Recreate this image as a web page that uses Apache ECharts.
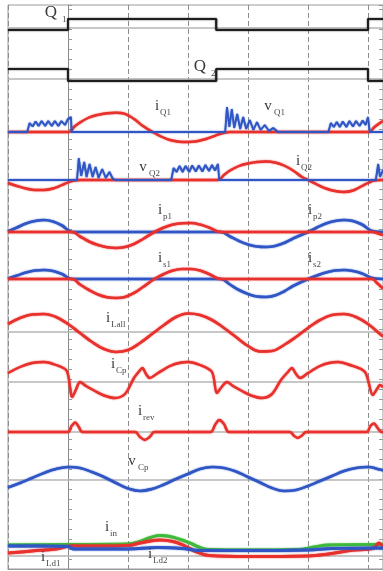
<!DOCTYPE html>
<html>
<head>
<meta charset="utf-8">
<script src="https://cdn.jsdelivr.net/npm/echarts@6/dist/echarts.min.js"></script>
<style>
html, body { margin: 0; padding: 0; background: #fff; }
#main { width: 383px; height: 571px; }
</style>
</head>
<body>
<div id="main"></div>
<script>
// all waveforms are [time (div), value (div)]
const q1 = [[-1,-0.2],[0,-0.2],[0,0.9],[2.47,0.9],[2.47,-0.2],[5.0,-0.2],[5.0,0.9],[5.25,0.9]];
const q2 = [[-1,1.0],[0,1.0],[0,-0.2],[2.47,-0.2],[2.47,1.0],[5.0,1.0],[5.0,-0.2],[5.25,-0.2]];

const iQ1 = [[-1,0],[0.02,0],[0.1,0.5],[0.2,0.95],[0.35,1.45],[0.5,1.72],[0.65,1.87],[0.8,1.93],[0.95,1.82],
  [1.1,1.3],[1.25,0.6],[1.41,0],[1.55,-0.45],[1.7,-0.8],[1.85,-0.97],[2.0,-1.0],[2.15,-0.92],[2.3,-0.7],
  [2.45,-0.38],[2.6,-0.08],[2.7,0],[5.02,0],[5.1,0.45],[5.2,0.9],[5.25,1.1]];
const vQ1 = [[-1,0],[-0.68,0],[-0.64,0.9],[-0.59,0.55],[-0.54,1.05],[-0.49,0.6],[-0.44,1.1],[-0.38,0.6],
  [-0.33,1.1],[-0.27,0.6],[-0.22,1.1],[-0.16,0.6],[-0.11,1.1],[-0.05,0.7],[0.0,1.3],[0.05,1.5],[0.06,0],
  [2.62,0],[2.65,2.5],[2.69,0.5],[2.73,2.3],[2.77,0.4],[2.82,1.8],[2.87,0.3],[2.92,1.5],[2.97,0.3],
  [3.03,1.2],[3.09,0.2],[3.15,1.0],[3.21,0.2],[3.28,0.7],[3.35,0.1],[3.42,0.4],[3.5,0],[4.34,0],
  [4.38,0.9],[4.43,0.5],[4.48,1.0],[4.53,0.5],[4.58,1.05],[4.64,0.5],[4.69,1.1],[4.75,0.55],[4.8,1.1],
  [4.86,0.6],[4.91,1.15],[4.96,0.7],[5.0,1.5],[5.03,0],[5.25,0]];

const iQ2 = [[-1,-0.3],[-0.85,-0.6],[-0.7,-0.85],[-0.55,-1.0],[-0.4,-1.0],[-0.25,-0.85],[-0.1,-0.5],[0,-0.25],
  [0.1,-0.05],[0.2,0],[2.5,0],[2.6,0.5],[2.7,0.95],[2.85,1.4],[3.0,1.65],[3.15,1.8],[3.3,1.85],[3.45,1.75],
  [3.6,1.45],[3.75,0.95],[3.9,0.3],[4.0,0],[4.15,-0.45],[4.3,-0.85],[4.45,-1.1],[4.6,-1.2],[4.75,-1.05],
  [4.9,-0.6],[5.0,-0.3],[5.1,-0.05],[5.2,0],[5.25,0]];
const vQ2 = [[-1,0],[0.15,0],[0.18,2.2],[0.22,0.4],[0.27,1.8],[0.31,0.3],[0.36,1.6],[0.41,0.3],[0.46,1.3],
  [0.51,0.2],[0.57,1.1],[0.63,0.2],[0.69,0.8],[0.75,0.1],[0.8,0],[1.72,0],[1.76,1.2],[1.81,0.8],[1.86,1.4],
  [1.91,0.8],[1.96,1.4],[2.02,0.8],[2.07,1.45],[2.13,0.85],[2.18,1.45],[2.24,0.85],[2.29,1.5],[2.35,0.9],
  [2.4,1.5],[2.45,0.95],[2.5,1.6],[2.52,0],[5.13,0],[5.17,1.6],[5.2,0.3],[5.25,1.0]];

const ip1 = [[-1,0],[0.07,0],[0.2,-0.45],[0.35,-0.95],[0.5,-1.3],[0.65,-1.52],[0.8,-1.6],[0.95,-1.5],[1.1,-1.2],
  [1.25,-0.7],[1.44,0],[1.6,0.45],[1.75,0.75],[1.9,0.88],[2.05,0.9],[2.2,0.75],[2.35,0.45],[2.55,0],
  [5.07,0],[5.17,-0.15],[5.25,-0.3]];
const ip2 = [[-1,0.05],[-0.85,0.45],[-0.7,0.85],[-0.55,1.1],[-0.4,1.2],[-0.25,1.05],[-0.1,0.65],[0.07,0],
  [2.55,0],[2.7,-0.45],[2.85,-0.9],[3.0,-1.25],[3.15,-1.45],[3.3,-1.5],[3.45,-1.4],[3.6,-1.1],[3.75,-0.65],
  [4.0,0],[4.15,0.45],[4.3,0.85],[4.45,1.1],[4.6,1.2],[4.75,1.1],[4.9,0.75],[5.07,0.1],[5.25,0]];

const is1 = [[-1,0],[0.07,0],[0.2,-0.55],[0.35,-1.1],[0.5,-1.55],[0.65,-1.82],[0.8,-1.9],[0.95,-1.8],[1.1,-1.4],
  [1.25,-0.8],[1.44,0],[1.6,0.5],[1.75,0.85],[1.9,1.0],[2.05,1.0],[2.2,0.85],[2.35,0.5],[2.55,0],
  [5.07,0],[5.15,-0.4],[5.25,-0.95]];
const is2 = [[-1,0.05],[-0.85,0.35],[-0.7,0.65],[-0.55,0.85],[-0.4,0.9],[-0.25,0.8],[-0.1,0.5],[0.07,0],
  [2.55,0],[2.7,-0.55],[2.85,-1.1],[3.0,-1.5],[3.15,-1.75],[3.3,-1.8],[3.45,-1.65],[3.6,-1.25],[3.75,-0.7],
  [4.0,0],[4.15,0.35],[4.3,0.65],[4.45,0.85],[4.6,0.9],[4.75,0.8],[4.9,0.55],[5.07,0.1],[5.25,0]];

const iLall = [[-1,0.8],[-0.8,1.4],[-0.6,1.75],[-0.4,1.8],[-0.2,1.5],[0,0.8],[0.2,-0.1],[0.4,-1.0],[0.6,-1.7],
  [0.8,-2.0],[1.0,-1.8],[1.2,-1.1],[1.4,-0.2],[1.6,0.7],[1.8,1.5],[2.0,1.85],[2.2,1.7],[2.4,1.2],[2.6,0.4],
  [2.8,-0.5],[3.0,-1.4],[3.2,-1.95],[3.4,-1.9],[3.6,-1.3],[3.8,-0.5],[4.0,0.4],[4.2,1.2],[4.4,1.7],
  [4.6,1.8],[4.8,1.5],[5.0,0.8],[5.2,-0.2],[5.25,-0.45]];

const iCp = [[-1,0.9],[-0.8,1.5],[-0.6,1.9],[-0.4,2.0],[-0.2,1.7],[-0.02,1.1],[0.07,-1.5],[0.13,-0.8],[0.2,0],
  [0.3,-0.4],[0.45,-0.9],[0.6,-1.35],[0.78,-1.6],[0.95,-1.2],[1.1,0.4],[1.19,1.1],[1.24,1.4],[1.3,0.8],
  [1.36,0.4],[1.5,0.9],[1.7,1.6],[1.85,1.9],[2.0,2.0],[2.2,1.7],[2.4,1.0],[2.48,-1.1],[2.56,-0.5],[2.65,0],
  [2.75,-0.4],[2.9,-0.9],[3.05,-1.35],[3.23,-1.6],[3.4,-1.2],[3.55,0.2],[3.68,1.1],[3.73,1.4],[3.8,0.8],
  [3.87,0.4],[4.0,0.9],[4.2,1.6],[4.35,1.9],[4.5,2.0],[4.7,1.7],[4.95,1.0],[5.08,-1.3],[5.15,-0.7],
  [5.2,-0.3],[5.25,-0.5]];

const irev = [[-1,0],[0,0],[0.06,0.6],[0.12,0.95],[0.18,0.5],[0.24,0],[1.12,0],[1.2,-0.5],[1.28,-0.8],
  [1.36,-0.5],[1.44,0],[2.38,0],[2.45,0.7],[2.52,1.2],[2.6,0.8],[2.68,0],[3.7,0],[3.77,-0.4],[3.83,-0.6],
  [3.9,-0.35],[3.97,0],[4.98,0],[5.04,0.6],[5.1,0.85],[5.16,0.4],[5.22,0],[5.25,0]];

const vCp = [[-1,-0.75],[-0.8,-0.3],[-0.6,0.2],[-0.4,0.7],[-0.2,1.1],[0,1.3],[0.2,1.2],[0.4,0.8],[0.6,0.3],
  [0.8,-0.3],[1.0,-0.85],[1.2,-1.1],[1.4,-0.9],[1.6,-0.45],[1.8,0.1],[2.0,0.6],[2.2,1.1],[2.4,1.3],
  [2.6,1.2],[2.8,0.85],[3.0,0.3],[3.2,-0.25],[3.4,-0.8],[3.6,-1.1],[3.8,-1.0],[4.0,-0.6],[4.2,-0.1],
  [4.4,0.4],[4.6,0.9],[4.8,1.2],[5.0,1.3],[5.2,1.05],[5.25,0.95]];

const iin = [[-1,1.1],[0,1.15],[1.0,1.2],[1.2,1.45],[1.35,1.8],[1.52,2.05],[1.7,1.95],[1.9,1.6],[2.07,1.2],
  [2.2,0.85],[2.35,0.65],[3.0,0.6],[3.84,0.65],[4.1,0.9],[4.34,1.1],[5.25,1.15]];
const iLd1 = [[-1,0.3],[-0.6,0.5],[-0.2,0.7],[0.05,1.0],[0.5,1.0],[1.0,1.05],[1.2,1.3],[1.52,1.6],[1.75,1.45],
  [1.95,1.0],[2.15,0.4],[2.35,0.05],[3.0,-0.05],[4.0,0.0],[4.34,0.2],[4.7,0.55],[5.1,0.8],[5.18,1.3],[5.25,0.9]];
const iLd2 = [[-1,1.0],[-0.5,1.0],[0.0,0.95],[0.1,0.7],[1.0,0.7],[1.5,0.85],[1.9,0.75],[2.2,0.55],[3.0,0.55],
  [4.0,0.6],[4.4,0.75],[5.25,0.8]];

// channel offsets on screen (div from bottom of the frame)
const offset = { q1: 54.1, q2: 49.0, ch3: 43.7, ch4: 38.9, ch5: 33.7, ch6: 29.0,
  ch7: 23.7, ch8: 18.7, ch9: 13.7, ch10: 8.9, ch11: 1.3 };

const RED = '#e8302c', BLUE = '#2f56c4', BLACK = '#1e1e1e', GREEN = '#3fba3a';

function trace(d, base, color, width, smooth, z) {
  return {
    type: 'line',
    data: d.map(p => [p[0], p[1] + base]),
    showSymbol: false,
    smooth: smooth,
    silent: true,
    z: z || 3,
    lineStyle: { color: color, width: width, shadowColor: color, shadowBlur: 1.5 }
  };
}

let myChart = echarts.init(document.getElementById('main'), null, { renderer: 'canvas' });

// gray zero line of each channel, under the traces
const baseLines = {
  type: 'line',
  data: [[-1, 0]],
  showSymbol: false,
  silent: true,
  z: 1,
  lineStyle: { opacity: 0 },
  markLine: {
    silent: true,
    z: 1,
    symbol: ['none', 'none'],
    label: { show: false },
    animation: false,
    lineStyle: { color: '#b4b4b4', type: 'solid', width: 1.5 },
    data: Object.values(offset).map(v => ({ yAxis: v }))
  }
};

// labels: main letter + subscript
function label(x, y, main, sub, big) {
  const fs = big ? 17 : 15;
  const w = main === 'i' ? 4 : (main === 'v' ? 7 : 12);
  return [
    { type: 'text', x: x, y: y, z: 20, style: { text: main, fontSize: fs, fontFamily: 'Liberation Serif',
      fill: '#3a3a3a', align: 'center', verticalAlign: 'middle' } },
    { type: 'text', x: x + w - 1, y: y + 7, z: 20, style: { text: sub, fontSize: 9, fontFamily: 'Liberation Serif',
      fill: '#4a4a4a', align: 'left', verticalAlign: 'middle' } }
  ];
}

const labels = [].concat(
  label(51, 13, 'Q', '1', true),
  label(200, 67, 'Q', '2', true),
  label(157, 106, 'i', 'Q1'),
  label(268, 106, 'v', 'Q1'),
  label(143, 167, 'v', 'Q2'),
  label(298, 161, 'i', 'Q2'),
  label(160, 210, 'i', 'p1'),
  label(310, 210, 'i', 'p2'),
  label(160, 258, 'i', 's1'),
  label(310, 258, 'i', 's2'),
  label(108, 318, 'i', 'Lall'),
  label(113, 364, 'i', 'Cp'),
  label(140, 411, 'i', 'rev'),
  label(132, 461, 'v', 'Cp'),
  label(107, 527, 'i', 'in'),
  label(43, 557, 'i', 'Ld1'),
  label(150, 554, 'i', 'Ld2')
);

let option = {
  animation: false,
  backgroundColor: '#fff',
  grid: { left: 8, right: -2.5, top: 5, bottom: 2, show: true, borderColor: '#9a9a9a', borderWidth: 1 },
  xAxis: {
    type: 'value', min: -1, max: 5.25, interval: 1,
    axisLabel: { show: false },
    axisTick: { show: false },
    axisLine: { show: true, lineStyle: { color: '#9a9a9a' } },
    splitLine: { show: true, lineStyle: { color: '#8c8c8c', type: [5, 3], width: 1 } }
  },
  yAxis: [
    { type: 'value', min: 0, max: 56.4, interval: 1, position: 'left',
      axisLabel: { show: false }, splitLine: { show: false },
      axisLine: { show: true, lineStyle: { color: '#8a8a8a' } },
      axisTick: { show: true, inside: true, length: 4, lineStyle: { color: '#9a9a9a' } } },
    { type: 'value', min: 0, max: 56.4, interval: 1, position: 'right',
      axisLabel: { show: false }, splitLine: { show: false },
      axisLine: { show: true, lineStyle: { color: '#8a8a8a' } },
      axisTick: { show: true, inside: true, length: 4, lineStyle: { color: '#9a9a9a' } } }
  ],
  graphic: labels,
  series: [
    baseLines,
    trace(q1, offset.q1, BLACK, 2, false),
    trace(q2, offset.q2, BLACK, 2, false),
    trace(iQ1, offset.ch3, RED, 2.4, 0.4, 3),
    trace(vQ1, offset.ch3, BLUE, 1.8, false, 4),
    trace(iQ2, offset.ch4, RED, 2.4, 0.4, 3),
    trace(vQ2, offset.ch4, BLUE, 1.8, false, 4),
    trace(ip2, offset.ch5, BLUE, 2.6, 0.4, 3),
    trace(ip1, offset.ch5, RED, 2.6, 0.4, 4),
    trace(is2, offset.ch6, BLUE, 2.6, 0.4, 3),
    trace(is1, offset.ch6, RED, 2.6, 0.4, 4),
    trace(iLall, offset.ch7, RED, 2.6, 0.4),
    trace(iCp, offset.ch8, RED, 2.4, 0.3),
    trace(irev, offset.ch9, RED, 2.4, 0.3),
    trace(vCp, offset.ch10, BLUE, 2.6, 0.4),
    trace(iin, offset.ch11, GREEN, 3, 0.4, 3),
    trace(iLd1, offset.ch11, RED, 3, 0.4, 4),
    trace(iLd2, offset.ch11, BLUE, 3, 0.4, 5)
  ]
};

myChart.setOption(option);
</script>
</body>
</html>
